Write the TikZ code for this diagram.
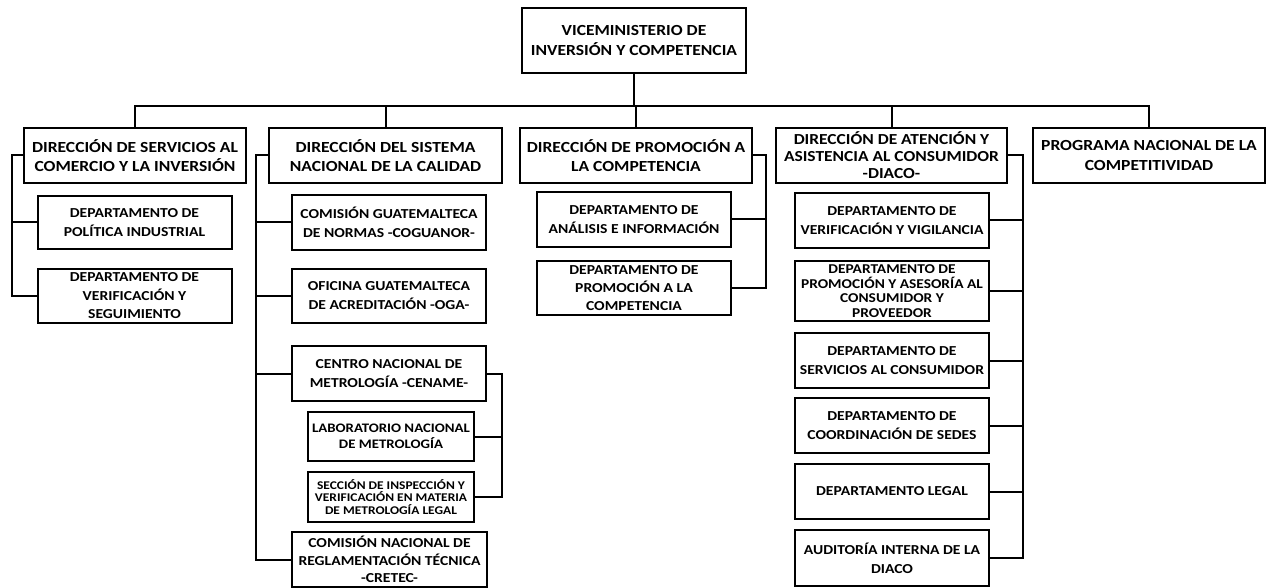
\documentclass[tikz,border=0pt]{standalone}
\usepackage{fontspec}
\setmainfont{Carlito}[FakeStretch=1.14]
\usepackage{tikz}
\newcommand{\fDir}{\bfseries\fontsize{15.4}{19.3}\selectfont}
\newcommand{\fDep}{\bfseries\fontsize{13.7}{19}\selectfont}
\newcommand{\ramA}{12}
\newcommand{\ramB}{256}
\newcommand{\ramC}{766}
\newcommand{\ramD}{1023}
\newcommand{\ramE}{502}

\begin{document}
\begin{tikzpicture}[x=1pt, y=-1pt,
	caja/.style = {draw, line width=2pt, align=center, inner sep=0pt, font=\fDir},
	dir/.style = {caja, minimum height=55pt},
	dep/.style = {caja, minimum width=194pt, minimum height=55pt, font=\fDep},
	linea/.style = {line width=2pt}]

		\useasboundingbox (0, 0) rectangle (1269, 588);
		\coordinate (bus) at (0, 106);
		\coordinate (ramaA) at (\ramA, 0);
		\coordinate (ramaB) at (\ramB, 0);
		\coordinate (ramaC) at (\ramC, 0);
		\coordinate (ramaD) at (\ramD, 0);
		\coordinate (ramaE) at (\ramE, 0);
		% Viceministerio
		\node[caja, minimum width=224pt, minimum height=65pt] (vice) at (634, 40.5) {VICEMINISTERIO DE\\INVERSIÓN Y COMPETENCIA};
		% Direcciones
		\node[dir, minimum width=222pt] (dirA) at (135, 155.5) {DIRECCIÓN DE SERVICIOS AL\\COMERCIO Y LA INVERSIÓN};
		\node[dir, minimum width=233pt] (dirB) at (385.5, 155.5) {DIRECCIÓN DEL SISTEMA\\NACIONAL DE LA CALIDAD};
		\node[dir, minimum width=232pt] (dirC) at (636, 155.5) {DIRECCIÓN DE PROMOCIÓN A\\LA COMPETENCIA};
		\node[dir, minimum width=231pt, font=\bfseries\fontsize{15.3}{17}\selectfont] (dirD) at (891.5, 155.5) {DIRECCIÓN DE ATENCIÓN Y\\ASISTENCIA AL CONSUMIDOR\\-DIACO-};
		\node[dir, minimum width=232pt] (dirE) at (1149, 155.5) {PROGRAMA NACIONAL DE LA\\COMPETITIVIDAD};
		% Servicios al comercio
		\node[dep, minimum height=53pt] (polInd) at (134.5, 222.5) {DEPARTAMENTO DE\\POLÍTICA INDUSTRIAL};
		\node[dep, minimum height=54pt, font=\bfseries\fontsize{13.7}{18.5}\selectfont] (verSeg) at (134.5, 296) {DEPARTAMENTO DE\\VERIFICACIÓN Y\\SEGUIMIENTO};
		% Sistema nacional de la calidad
		\node[dep] (cog) at (389, 222.5) {COMISIÓN GUATEMALTECA\\DE NORMAS -COGUANOR-};
		\node[dep, minimum height=54pt] (oga) at (389, 296) {OFICINA GUATEMALTECA\\DE ACREDITACIÓN -OGA-};
		\node[dep] (cename) at (389, 373.5) {CENTRO NACIONAL DE\\METROLOGÍA -CENAME-};
		\node[dep, minimum width=166pt, minimum height=49pt, font=\bfseries\fontsize{13}{16.5}\selectfont] (lab) at (391, 436.5) {LABORATORIO NACIONAL\\DE METROLOGÍA};
		\node[dep, minimum width=166pt, minimum height=50pt, font=\bfseries\fontsize{11.8}{12.3}\selectfont] (secc) at (391, 497) {SECCIÓN DE INSPECCIÓN Y\\VERIFICACIÓN EN MATERIA\\DE METROLOGÍA LEGAL};
		\node[dep, minimum width=195pt, font=\bfseries\fontsize{13.7}{17.5}\selectfont] (cretec) at (389.5, 559.5) {COMISIÓN NACIONAL DE\\REGLAMENTACIÓN TÉCNICA\\-CRETEC-};
		% Promocion a la competencia
		\node[dep] (anaInf) at (634, 219.5) {DEPARTAMENTO DE\\ANÁLISIS E INFORMACIÓN};
		\node[dep, minimum height=54pt, font=\bfseries\fontsize{13.7}{18}\selectfont] (proCom) at (634, 288) {DEPARTAMENTO DE\\PROMOCIÓN A LA\\COMPETENCIA};
		% DIACO
		\node[dep] (verVig) at (892, 220.5) {DEPARTAMENTO DE\\VERIFICACIÓN Y VIGILANCIA};
		\node[dep, minimum height=60pt, font=\bfseries\fontsize{13.5}{14.5}\selectfont] (proAse) at (892, 291) {DEPARTAMENTO DE\\PROMOCIÓN Y ASESORÍA AL\\CONSUMIDOR Y\\PROVEEDOR};
		\node[dep] (serCon) at (892, 360.5) {DEPARTAMENTO DE\\SERVICIOS AL CONSUMIDOR};
		\node[dep] (coord) at (892, 425.5) {DEPARTAMENTO DE\\COORDINACIÓN DE SEDES};
		\node[dep] (legal) at (892, 491.5) {DEPARTAMENTO LEGAL};
		\node[dep, minimum height=56pt] (audit) at (892, 558) {AUDITORÍA INTERNA DE LA\\DIACO};
		%
		\draw[linea] (vice.south) -- (vice.south |- bus);
		\draw[linea] (dirA.north) -- (dirA.north |- bus) -- (dirE.north |- bus) -- (dirE.north);
		\foreach \d in {dirB, dirC, dirD}
			\draw[linea] (\d.north) -- (\d.north |- bus);
		%
		\draw[linea] (dirA.west) -| (ramaA |- verSeg.west) -- (verSeg.west);
		\draw[linea] (polInd.west) -- (ramaA |- polInd.west);
		\draw[linea] (dirB.west) -| (ramaB |- cretec.west) -- (cretec.west);
		\foreach \n in {cog, oga, cename}
			\draw[linea] (\n.west) -- (ramaB |- \n.west);
		\draw[linea] (cename.east) -| (ramaE |- secc.east) -- (secc.east);
		\draw[linea] (lab.east) -- (ramaE |- lab.east);
		\draw[linea] (dirC.east) -| (ramaC |- proCom.east) -- (proCom.east);
		\draw[linea] (anaInf.east) -- (ramaC |- anaInf.east);
		\draw[linea] (dirD.east) -| (ramaD |- audit.east) -- (audit.east);
		\foreach \n in {verVig, proAse, serCon, coord, legal}
			\draw[linea] (\n.east) -- (ramaD |- \n.east);
	\end{tikzpicture}
\end{document}
